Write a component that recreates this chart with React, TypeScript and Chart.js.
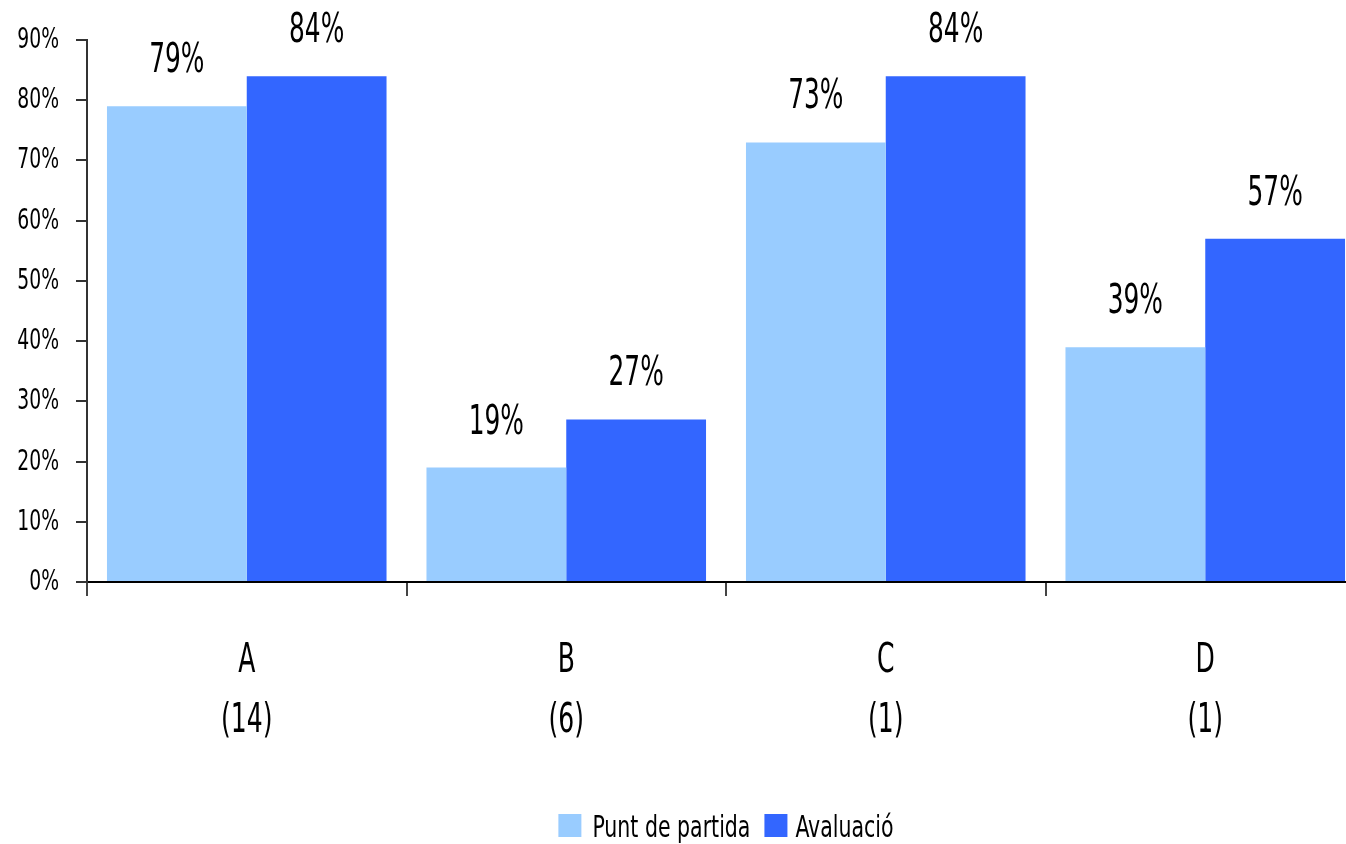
import React, { useEffect, useRef } from "react";
import { Chart, registerables } from "chart.js";

Chart.register(...registerables);

const categories: string[][] = [["A", "(14)"], ["B", "(6)"], ["C", "(1)"], ["D", "(1)"]];
const seriesNames = ["Punt de partida", "Avaluació"];
const startValues = [79, 19, 73, 39];
const evalValues = [84, 27, 84, 57];
const colors = ["#99CCFF", "#3366FF"];
const yMax = 90;
const yStep = 10;

const FONT = "'DejaVu Sans Condensed', 'DejaVu Sans', sans-serif";

function drawText(ctx: CanvasRenderingContext2D, text: string, x: number, y: number, size: number, sx: number, align: CanvasTextAlign) {
  ctx.save();
  ctx.font = `${size}px ${FONT}`;
  ctx.fillStyle = "#000";
  ctx.textBaseline = "alphabetic";
  ctx.textAlign = align;
  ctx.translate(x, y);
  ctx.scale(sx, 1);
  ctx.fillText(text, 0, 0);
  ctx.restore();
}

function textWidth(ctx: CanvasRenderingContext2D, text: string, size: number, sx: number) {
  ctx.save();
  ctx.font = `${size}px ${FONT}`;
  const w = ctx.measureText(text).width * sx;
  ctx.restore();
  return w;
}

const narrowText = {
  id: "narrowText",
  afterDraw(chart: any) {
    const ctx: CanvasRenderingContext2D = chart.ctx;
    // value labels
    chart.data.datasets.forEach((ds: any, i: number) => {
      const meta = chart.getDatasetMeta(i);
      meta.data.forEach((bar: any, j: number) => {
        drawText(ctx, `${ds.data[j]}%`, bar.x, bar.y - 34, 40, 0.69, "center");
      });
    });
    // y tick labels
    const ys = chart.scales.y;
    ys.ticks.forEach((t: any) => {
      const py = ys.getPixelForValue(t.value);
      drawText(ctx, `${t.value}%`, ys.right - 28, py + 8, 29, 0.72, "right");
    });
    // x tick labels
    const xs = chart.scales.x;
    (chart.data.labels as string[][]).forEach((lines, i) => {
      const px = xs.getPixelForTick(i);
      lines.forEach((line, k) => {
        drawText(ctx, line, px, xs.top + 90 + k * 60, 41, 0.68, "center");
      });
    });
    // legend
    const lsx = 0.76;
    const lsize = 30;
    const box = 23;
    const w0 = textWidth(ctx, seriesNames[0], lsize, lsx);
    const w1 = textWidth(ctx, seriesNames[1], lsize, lsx);
    const total = box + 11 + w0 + 14 + box + 8 + w1;
    const cx = (chart.chartArea.left + chart.chartArea.right) / 2;
    let x = cx - total / 2;
    const boxTop = 814;
    const base = 837;
    ctx.save();
    ctx.fillStyle = colors[0];
    ctx.fillRect(x, boxTop, box, box);
    ctx.restore();
    x += box + 11;
    drawText(ctx, seriesNames[0], x, base, lsize, lsx, "left");
    x += w0 + 14;
    ctx.save();
    ctx.fillStyle = colors[1];
    ctx.fillRect(x, boxTop, box, box);
    ctx.restore();
    x += box + 8;
    drawText(ctx, seriesNames[1], x, base, lsize, lsx, "left");
  },
};

export default function App() {
  const ref = useRef<HTMLCanvasElement>(null);
  useEffect(() => {
    if (!ref.current) return;
    const chart = new Chart(ref.current, {
      type: "bar",
      data: {
        labels: categories,
        datasets: [
          { label: seriesNames[0], data: startValues, backgroundColor: colors[0], categoryPercentage: 0.875, barPercentage: 1 },
          { label: seriesNames[1], data: evalValues, backgroundColor: colors[1], categoryPercentage: 0.875, barPercentage: 1 },
        ],
      },
      options: {
        animation: false,
        responsive: false,
        devicePixelRatio: 1,
        layout: { padding: { top: 40, right: 87, left: 0, bottom: 0 } },
        plugins: {
          legend: { display: false },
          tooltip: { enabled: false },
        },
        scales: {
          x: {
            border: { color: "#000", width: 2 },
            grid: { drawOnChartArea: false, drawTicks: true, tickLength: 14, color: "#444", lineWidth: 2, offset: true },
            ticks: { display: false },
            afterFit(scale: any) {
              scale.height = 262;
            },
          },
          y: {
            min: 0,
            max: yMax,
            border: { color: "#333", width: 2 },
            grid: { drawOnChartArea: false, drawTicks: true, tickLength: 11, color: "#333", lineWidth: 2 },
            ticks: { stepSize: yStep, display: false },
            afterFit(scale: any) {
              scale.width = 87;
            },
          },
        },
      },
      plugins: [narrowText],
    });
    return () => chart.destroy();
  }, []);
  return (
    <div style={{ position: "fixed", left: 0, top: 0, width: 1346, height: 844, overflow: "hidden", background: "#fff" }}>
      <canvas ref={ref} width={1452} height={844} style={{ position: "absolute", left: 0, top: 0, width: 1452, height: 844 }} />
    </div>
  );
}
